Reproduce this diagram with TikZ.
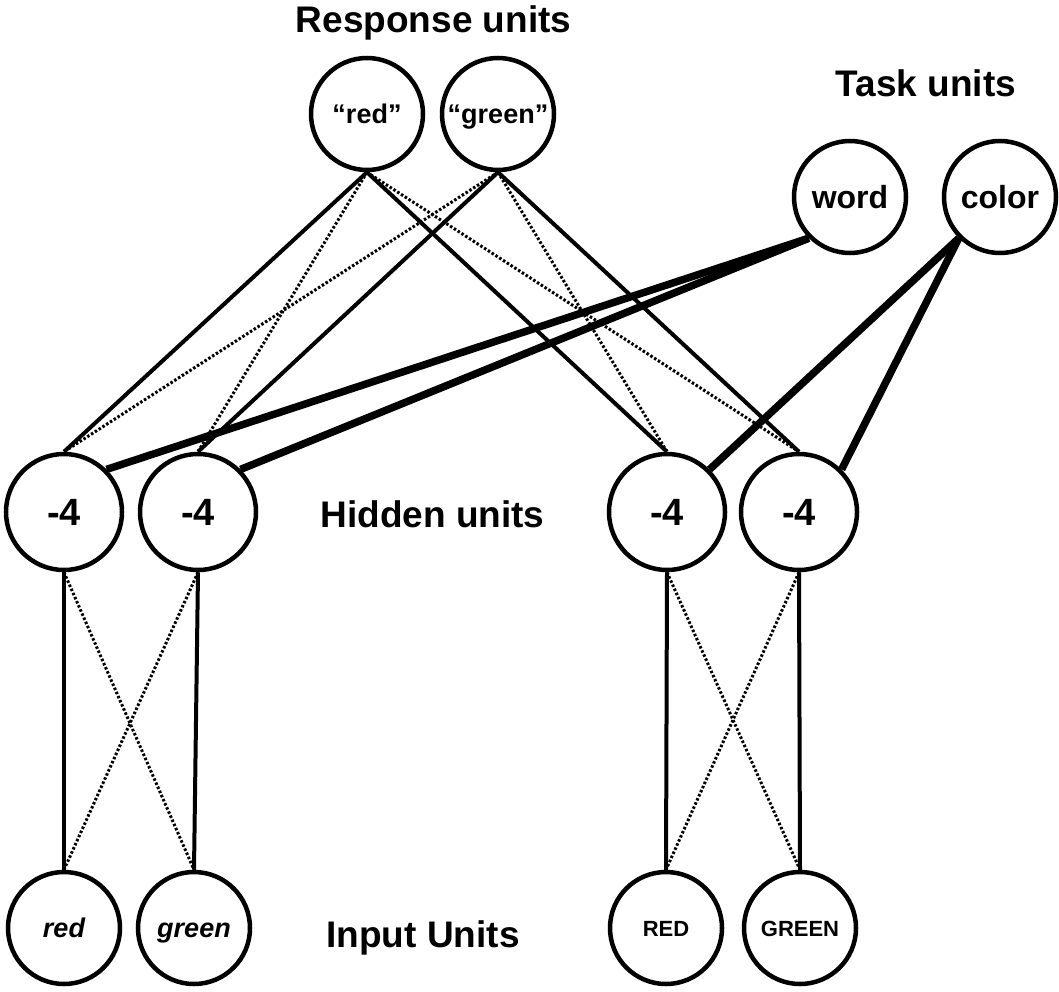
\documentclass[tikz,border=0pt]{standalone}
\usepackage{fontspec}
\setmainfont{Liberation Sans}
\begin{document}
\begin{tikzpicture}[x=1pt,y=-1pt,
  unit/.style={circle,draw,line width=4.5pt,minimum size=112pt,inner sep=0pt,
    text depth=0pt,font=\bfseries},
  hid/.style={unit,minimum size=116pt,text height=27pt,font=\fontsize{38}{40}\selectfont\bfseries},
  resp/.style={unit,text height=19.5pt,font=\fontsize{27}{30}\selectfont\bfseries},
  task/.style={unit,text height=23pt,font=\fontsize{32}{34}\selectfont\bfseries},
  inlow/.style={unit,text height=19.5pt,font=\fontsize{27}{30}\selectfont\bfseries\itshape},
  incap/.style={unit,text height=16pt,font=\fontsize{22}{24}\selectfont\bfseries},
  lab/.style={anchor=base,inner sep=0pt,font=\fontsize{37}{40}\selectfont\bfseries},
  solidc/.style={line width=4pt},
  dotc/.style={line width=3pt,dash pattern=on 2.5pt off 2pt},
  thickc/.style={line width=7.5pt}]
\useasboundingbox (0,0) rectangle (1059,992);
% labels
\node[lab] (lresp) at (433.5,33) {Response units};
\node[lab] (ltask) at (926,97) {Task units};
\node[lab] (lhid) at (432.5,527) {Hidden units};
\node[lab] (lin) at (423,947) {Input Units};
% response units
\node[resp] (r1) at (367,114) {“red”};
\node[resp] (r2) at (498,114) {“green”};
% task units
\node[task] (tw) at (850,197) {word};
\node[task] (tc) at (1000,197) {color};
% hidden units
\node[hid] (h1) at (64,512) {-4};
\node[hid] (h2) at (198,512) {-4};
\node[hid] (h3) at (667,512) {-4};
\node[hid] (h4) at (799,512) {-4};
% input units
\node[inlow] (i1) at (64,928) {red};
\node[inlow] (i2) at (194,928) {green};
\node[incap] (i3) at (666,928) {RED};
\node[incap] (i4) at (800,928) {GREEN};
% response to hidden
\draw[solidc] (r1.south) -- (h1.north);
\draw[dotc] (r1.south) -- (h2.north);
\draw[solidc] (r1.south) -- (h3.north);
\draw[dotc] (r1.south) -- (h4.north);
\draw[dotc] (r2.south) -- (h1.north);
\draw[solidc] (r2.south) -- (h2.north);
\draw[dotc] (r2.south) -- (h3.north);
\draw[solidc] (r2.south) -- (h4.north);
% task to hidden
\draw[thickc] (tw.south west) -- (h1.north east);
\draw[thickc] (tw.south west) -- (h2.north east);
\draw[thickc] (tc.south west) -- (h3.north east);
\draw[thickc] (tc.south west) -- (h4.north east);
% hidden to input
\draw[solidc] (h1.south) -- (i1.north);
\draw[dotc] (h1.south) -- (i2.north);
\draw[solidc] (h2.south) -- (i2.north);
\draw[dotc] (h2.south) -- (i1.north);
\draw[solidc] (h3.south) -- (i3.north);
\draw[dotc] (h3.south) -- (i4.north);
\draw[solidc] (h4.south) -- (i4.north);
\draw[dotc] (h4.south) -- (i3.north);
\end{tikzpicture}
\end{document}
